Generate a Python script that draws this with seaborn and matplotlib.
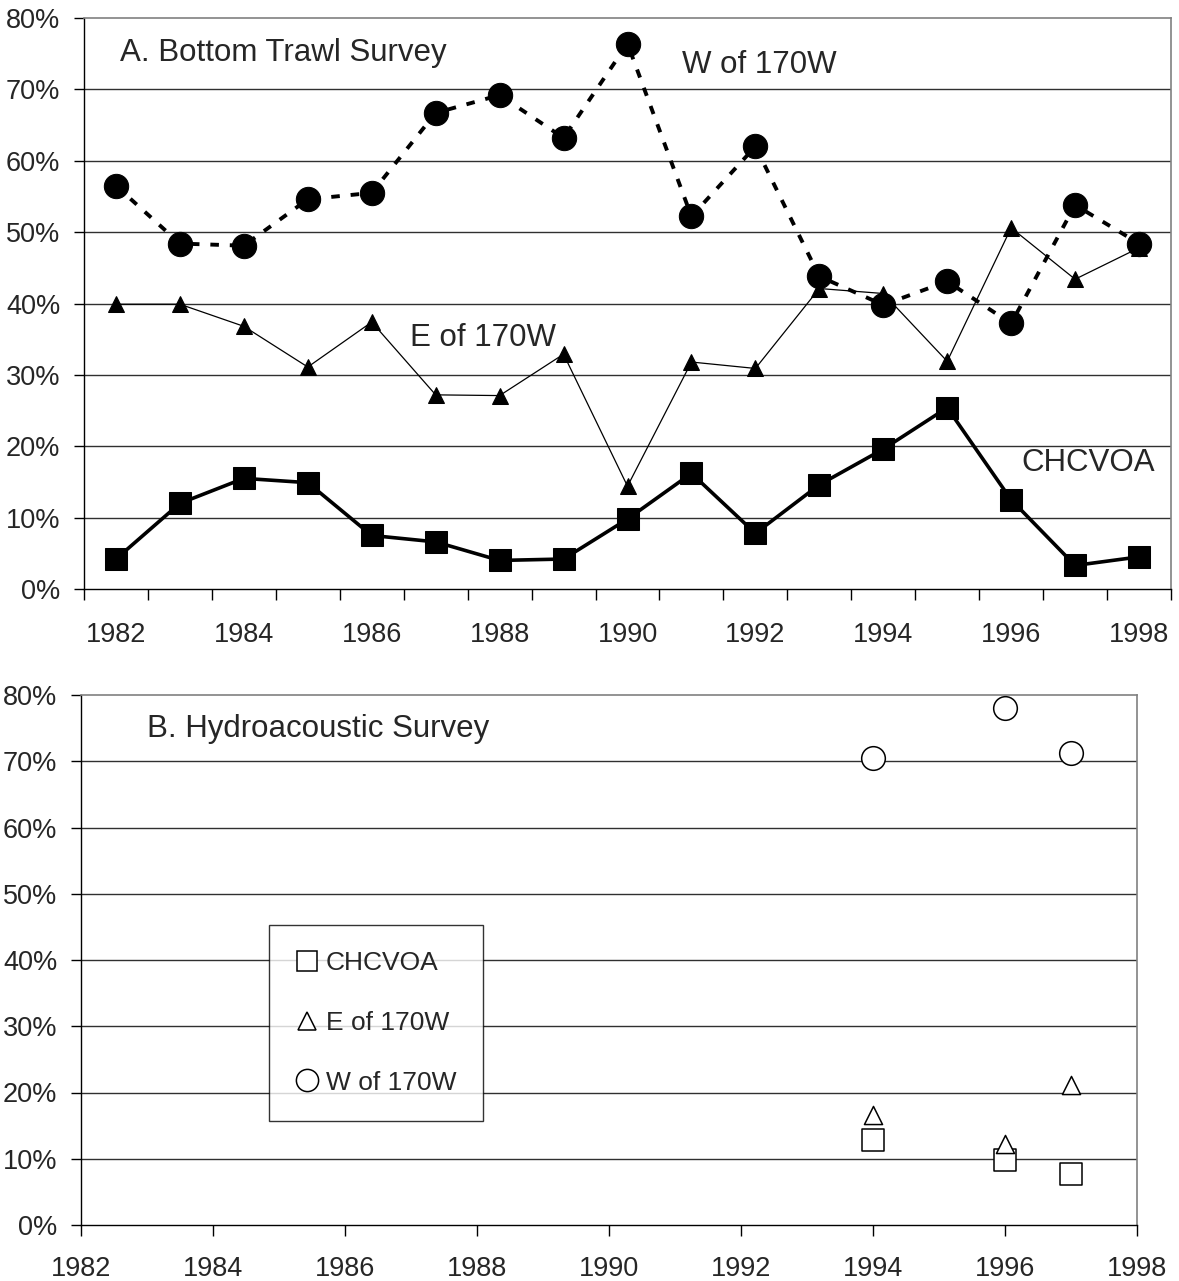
import numpy as np
import pandas as pd
import matplotlib
matplotlib.use("Agg")
import matplotlib.pyplot as plt
import seaborn as sns
from matplotlib.ticker import PercentFormatter, FixedLocator
from matplotlib.lines import Line2D

# ---- Data ----
years = list(range(1982, 1999))
w_of_170w = [56.5, 48.4, 48.1, 54.6, 55.5, 66.7, 69.2, 63.2, 76.4, 52.2, 62.0, 43.8, 39.8, 43.1, 37.2, 53.8, 48.4]
e_of_170w = [39.9, 39.9, 36.8, 31.1, 37.4, 27.2, 27.1, 32.9, 14.4, 31.8, 30.9, 42.1, 41.4, 31.9, 50.6, 43.4, 47.8]
chcvoa = [4.2, 12.0, 15.5, 14.9, 7.5, 6.6, 4.0, 4.2, 9.8, 16.2, 7.8, 14.6, 19.6, 25.4, 12.5, 3.3, 4.5]

hydro_years = [1994, 1996, 1997]
hydro_w = [70.5, 78.0, 71.2]
hydro_e = [16.6, 12.2, 21.1]
hydro_chcvoa = [12.9, 9.8, 7.7]

tick_years = [1982, 1984, 1986, 1988, 1990, 1992, 1994, 1996, 1998]
y_ticks = [0, 10, 20, 30, 40, 50, 60, 70, 80]

sns.set_style("white")
plt.rcParams['font.family'] = ['Liberation Sans', 'DejaVu Sans']
FS = 19.5
AFS = 22.5

fig = plt.figure(figsize=(11.79, 12.81), dpi=100)
W, H = 1179, 1281
ax1 = fig.add_axes([84 / W, 1 - 589 / H, 1087 / W, 571 / H])
ax2 = fig.add_axes([81 / W, 1 - 1225 / H, 1056 / W, 530 / H])

def style_axes(ax):
    ax.set_ylim(0, 80)
    ax.yaxis.set_major_locator(FixedLocator(y_ticks))
    ax.yaxis.set_major_formatter(PercentFormatter(decimals=0))
    ax.grid(False)
    for v in y_ticks[1:-1]:
        ax.axhline(v, color='#303030', lw=1.0, zorder=0.5)
    for s in ['top', 'right']:
        ax.spines[s].set_color('#808080')
        ax.spines[s].set_linewidth(1.2)
    for s in ['left', 'bottom']:
        ax.spines[s].set_color('#000000')
        ax.spines[s].set_linewidth(1.0)
    ax.tick_params(axis='y', which='major', direction='out', length=7, width=1,
                   color='black', labelsize=FS, pad=10, left=True)
    ax.set_xlabel('')
    ax.set_ylabel('')

# ---- Panel A ----
df = pd.DataFrame({'year': years, 'W': w_of_170w, 'E': e_of_170w, 'C': chcvoa})
sns.lineplot(data=df, x='year', y='E', ax=ax1, color='black', lw=0.9,
             marker='^', ms=12, mec='black', mfc='black', zorder=3)
sns.lineplot(data=df, x='year', y='C', ax=ax1, color='black', lw=2.6,
             marker='s', ms=15.5, mec='black', mfc='black', zorder=3)
sns.lineplot(data=df, x='year', y='W', ax=ax1, color='black', lw=2.8,
             linestyle=(0, (2.2, 2.8)), marker='o', ms=17.5, mec='black',
             mfc='black', zorder=4)
style_axes(ax1)
ax1.set_xlim(1981.5, 1998.5)
ax1.xaxis.set_major_locator(FixedLocator(tick_years))
ax1.set_xticklabels([str(y) for y in tick_years])
ax1.xaxis.set_minor_locator(FixedLocator(np.arange(1981.5, 1999.0, 1.0)))
ax1.tick_params(axis='x', which='major', length=0, labelsize=FS, pad=24, bottom=True)
ax1.tick_params(axis='x', which='minor', direction='out', length=8, width=1,
                color='black', bottom=True)

ax1.text(1982.06, 75.1, 'A. Bottom Trawl Survey', fontsize=AFS, va='center', ha='left')
ax1.text(1990.86, 73.4, 'W of 170W', fontsize=AFS, va='center', ha='left')
ax1.text(1986.6, 35.2, 'E of 170W', fontsize=AFS, va='center', ha='left')
ax1.text(1996.16, 17.6, 'CHCVOA', fontsize=AFS, va='center', ha='left')

# ---- Panel B ----
dh = pd.DataFrame({'year': hydro_years, 'W': hydro_w, 'E': hydro_e, 'C': hydro_chcvoa})
sns.scatterplot(data=dh, x='year', y='W', ax=ax2, marker='o', s=290,
                facecolor='white', edgecolor='black', linewidth=1.1, zorder=3)
sns.scatterplot(data=dh, x='year', y='C', ax=ax2, marker='s', s=230,
                facecolor='white', edgecolor='black', linewidth=1.1, zorder=3)
sns.scatterplot(data=dh, x='year', y='E', ax=ax2, marker='^', s=170,
                facecolor='white', edgecolor='black', linewidth=1.1, zorder=4)
style_axes(ax2)
ax2.set_xlim(1982, 1998)
ax2.xaxis.set_major_locator(FixedLocator(tick_years))
ax2.set_xticklabels([str(y) for y in tick_years])
ax2.tick_params(axis='x', which='major', direction='out', length=8, width=1,
                color='black', labelsize=FS, pad=14, bottom=True)

ax2.text(1983.0, 74.9, 'B. Hydroacoustic Survey', fontsize=AFS, va='center', ha='left')

handles = [
    Line2D([], [], ls='none', marker='s', ms=15, mfc='white', mec='black', mew=1.1),
    Line2D([], [], ls='none', marker='^', ms=13, mfc='white', mec='black', mew=1.1),
    Line2D([], [], ls='none', marker='o', ms=16, mfc='white', mec='black', mew=1.1),
]
leg = ax2.legend(handles, ['CHCVOA', 'E of 170W', 'W of 170W'],
                 loc='upper left', bbox_to_anchor=(0.178, 0.566),
                 frameon=True, fancybox=False, edgecolor='black',
                 fontsize=19, handlelength=0.9, handletextpad=0.25,
                 labelspacing=1.35, borderpad=1.0, borderaxespad=0)
leg.get_frame().set_linewidth(1.0)
leg.set_zorder(5)

fig.savefig('out.png', dpi=100, facecolor='white')
